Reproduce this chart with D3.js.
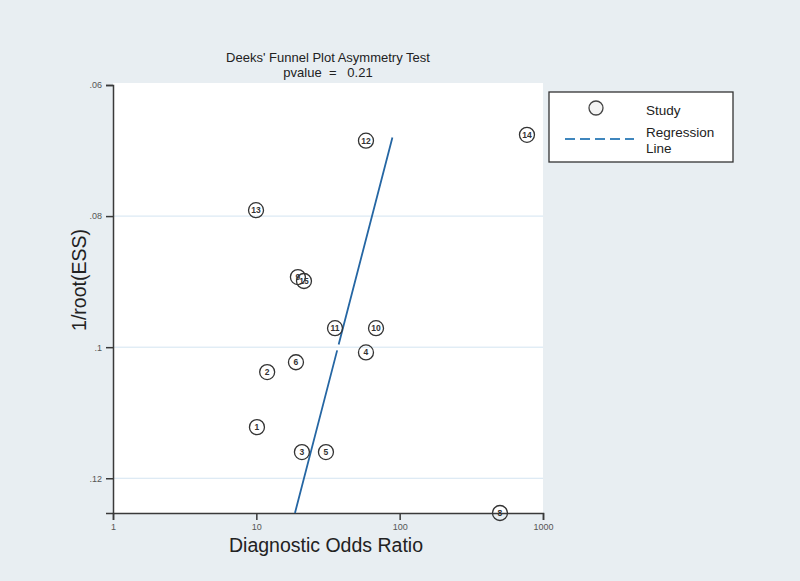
<!DOCTYPE html>
<html>
<head>
<meta charset="utf-8">
<script src="https://cdn.jsdelivr.net/npm/d3@7"></script>
<style>
  html, body { margin: 0; padding: 0; background: #e8eef2; }
  svg { display: block; font-family: "Liberation Sans", Arial, sans-serif; }
</style>
</head>
<body>
<svg id="chart" width="800" height="581"></svg>
<script>
// ---- data ----
const studyIds = ["1","2","3","4","5","6","8","9","10","11","12","13","14","15"];
const oddsRatios = [10.1, 11.9, 20.8, 58.2, 30.6, 18.9, 501, 19.5, 68.4, 35.4, 58.2, 9.95, 773, 21.5];
const invRootESS = [0.1122, 0.1038, 0.1160, 0.1008, 0.1160, 0.1023, 0.1253, 0.0893, 0.0971, 0.0971, 0.0685, 0.0791, 0.0676, 0.0899];
const regLineOR = [18.6, 89];
const regLineY = [0.1253, 0.0680];
const xTicks = [1, 10, 100, 1000];
const yTicks = [0.06, 0.08, 0.1, 0.12];
const yTickLabels = [".06", ".08", ".1", ".12"];
const titleLines = ["Deeks' Funnel Plot Asymmetry Test", "pvalue  =   0.21"];
const legendLabels = ["Study", "Regression", "Line"];

// ---- layout ----
const svg = d3.select("#chart");
const L = 113, R = 543, T = 85, B = 513;
const x = d3.scaleLog().domain([1, 1000]).range([L, R]);
const y = d3.scaleLinear().domain([0.06, 0.1253]).range([T, B]);

// plot area
svg.append("rect").attr("x", L).attr("y", T - 2).attr("width", R - L).attr("height", B - T + 2)
  .attr("fill", "#ffffff");

// gridlines
svg.append("g").selectAll("line").data(yTicks.slice(1)).join("line")
  .attr("x1", L).attr("x2", R)
  .attr("y1", d => y(d)).attr("y2", d => y(d))
  .attr("stroke", "#d3e4f1").attr("stroke-width", 1);

// axes
const yAxis = d3.axisLeft(y).tickValues(yTicks).tickSizeOuter(0).tickSize(7)
  .tickFormat((d, i) => yTickLabels[i]);
const gy = svg.append("g").attr("transform", `translate(${L},0)`).call(yAxis);
const xAxis = d3.axisBottom(x).tickValues(xTicks).tickSizeOuter(0).tickSize(7)
  .tickFormat(d3.format("d"));
const gx = svg.append("g").attr("transform", `translate(0,${B})`).call(xAxis);
[gx, gy].forEach(g => {
  g.selectAll("path, line").attr("stroke", "#3a3a3a").attr("stroke-width", 1.5);
  g.selectAll("text").attr("fill", "#555").attr("font-size", 9)
    .attr("font-family", "'Liberation Sans', Arial, sans-serif");
});
gy.selectAll("text").attr("x", -11);
gx.selectAll("text").attr("y", 11);

// regression line
const lineGen = d3.line().x(d => x(d[0])).y(d => y(d[1]));
svg.append("path")
  .datum(regLineOR.map((v, i) => [v, regLineY[i]]))
  .attr("d", lineGen)
  .attr("fill", "none").attr("stroke", "#2566a3").attr("stroke-width", 1.8)
  .attr("stroke-dasharray", "168,6,1000");

// points
const pts = studyIds.map((id, i) => ({ id, or: oddsRatios[i], v: invRootESS[i] }));
const gp = svg.append("g").selectAll("g").data(pts).join("g")
  .attr("transform", d => `translate(${x(d.or)},${y(d.v)})`);
gp.append("circle").attr("r", 7.5).attr("fill", "none")
  .attr("stroke", "#333").attr("stroke-width", 1.3);
gp.append("text").text(d => d.id)
  .attr("text-anchor", "middle").attr("dy", "0.35em")
  .attr("font-size", 8.5).attr("font-weight", "bold").attr("fill", "#333");

// title
svg.append("g").selectAll("text").data(titleLines).join("text")
  .attr("x", 328).attr("y", (d, i) => 62 + i * 15)
  .attr("text-anchor", "middle").attr("font-size", 13).attr("fill", "#222")
  .attr("xml:space", "preserve").style("white-space", "pre")
  .text(d => d);

// axis titles
svg.append("text").attr("x", 326).attr("y", 552).attr("text-anchor", "middle")
  .attr("font-size", 19.5).attr("fill", "#222").text("Diagnostic Odds Ratio");
svg.append("text").attr("transform", "translate(86,280) rotate(-90)")
  .attr("text-anchor", "middle").attr("font-size", 19.5).attr("fill", "#222").text("1/root(ESS)");

// legend
const lg = svg.append("g");
lg.append("rect").attr("x", 549).attr("y", 92).attr("width", 184).attr("height", 70)
  .attr("fill", "#ffffff").attr("stroke", "#333").attr("stroke-width", 1.3);
lg.append("circle").attr("cx", 596).attr("cy", 108).attr("r", 7)
  .attr("fill", "#f4f4f4").attr("stroke", "#444").attr("stroke-width", 1.3);
lg.append("line").attr("x1", 565).attr("x2", 634).attr("y1", 139).attr("y2", 139)
  .attr("stroke", "#3f86bd").attr("stroke-width", 1.8).attr("stroke-dasharray", "10,5");
lg.selectAll("text.lab").data(legendLabels).join("text")
  .attr("x", 646).attr("y", (d, i) => [115, 137, 153][i])
  .attr("font-size", 13.5).attr("fill", "#222").text(d => d);
</script>
</body>
</html>
